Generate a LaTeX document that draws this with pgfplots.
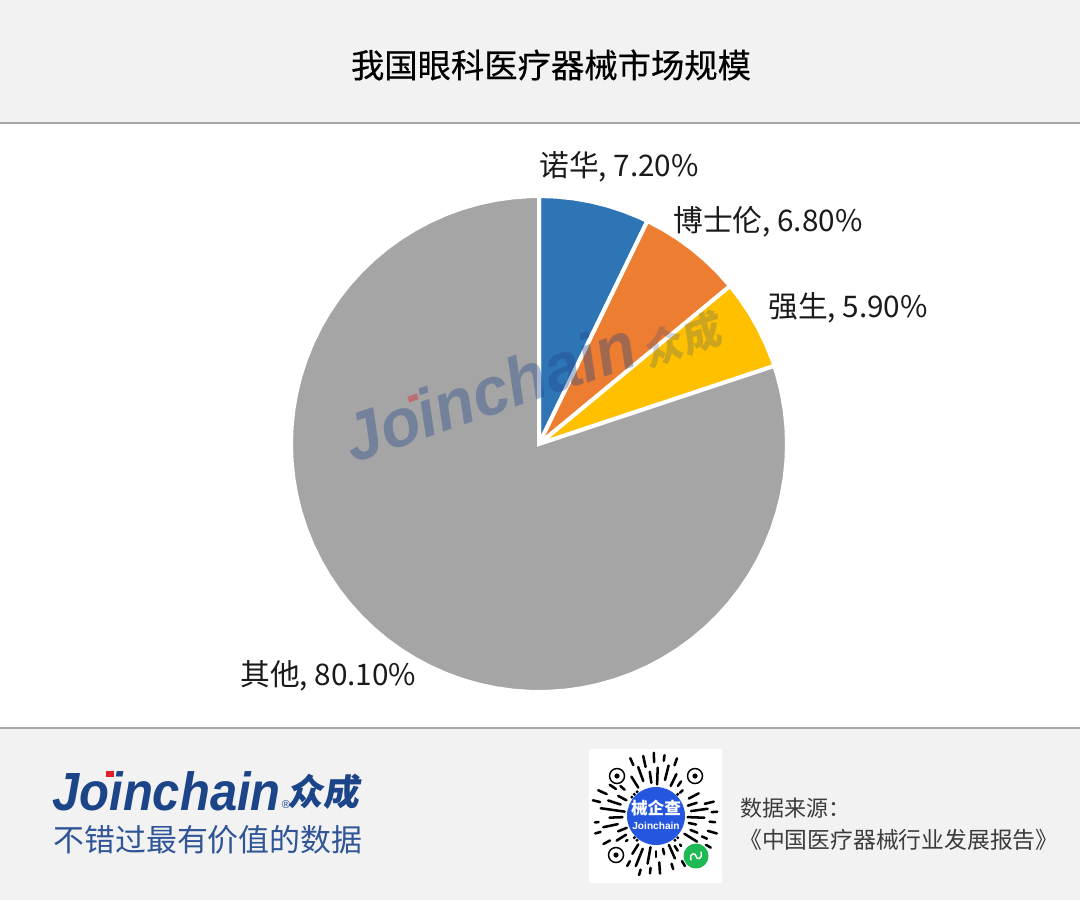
\documentclass[border=0pt]{standalone}
\usepackage{fontspec}
\setmainfont{Noto Sans CJK SC}
\newfontfamily\titlefont[FakeBold=0.35]{Noto Sans CJK SC}
\newfontfamily\logofont{Liberation Sans}
\usepackage{pgfplots}
\pgfplotsset{compat=1.18}
\definecolor{bandgray}{HTML}{F2F2F2}
\definecolor{rulegray}{HTML}{A6A6A6}
\definecolor{pieblue}{HTML}{2E75B6}
\definecolor{pieorange}{HTML}{ED7D31}
\definecolor{pieyellow}{HTML}{FFC000}
\definecolor{piegray}{HTML}{A5A5A5}
\definecolor{logoblue}{HTML}{1C4488}
\definecolor{tagblue}{HTML}{2F5597}
\definecolor{logored}{HTML}{E0202A}
\definecolor{qrblue}{HTML}{2456E0}
\definecolor{qrgreen}{HTML}{1DB954}
\definecolor{txt}{HTML}{1A1A1A}
\begin{document}
\begin{tikzpicture}[x=0.75pt,y=-0.75pt]
\path[use as bounding box] (0,0) rectangle (1080,900);
\fill[white] (0,0) rectangle (1080,900);
\fill[bandgray] (0,0) rectangle (1080,123);
\fill[bandgray] (0,728) rectangle (1080,900);
\draw[rulegray,line width=1pt] (0,123) -- (1080,123);
\draw[rulegray,line width=1pt] (0,728) -- (1080,728);

\node[text=black,font=\titlefont\fontsize{25}{30}\selectfont] at (551,65) {我国眼科医疗器械市场规模};

\coordinate (piecentre) at (539,444);
% shares 7.2, 6.8, 5.9, 80.1 turned into angles, clockwise from the top
\begin{axis}[
    at={(piecentre)}, anchor=center,
    scale only axis, width=372pt, height=372pt,
    xmin=-1, xmax=1, ymin=-1, ymax=1,
    hide axis, clip=false,
]
\addplot[data cs=polar,fill=pieblue,draw=white,line width=3pt] coordinates {
    (0,0) (90,1) (86,1) (82,1) (78,1) (74,1) (70,1) (66,1) (64.08,1)} --cycle;
\addplot[data cs=polar,fill=pieorange,draw=white,line width=3pt] coordinates {
    (0,0) (64.08,1) (60,1) (56,1) (52,1) (48,1) (44,1) (39.6,1)} --cycle;
\addplot[data cs=polar,fill=pieyellow,draw=white,line width=3pt] coordinates {
    (0,0) (39.6,1) (36,1) (32,1) (28,1) (24,1) (20,1) (18.36,1)} --cycle;
\addplot[data cs=polar,fill=piegray,draw=white,line width=3pt] coordinates {
    (0,0) (18.36,1) (16,1) (12,1) (8,1) (4,1) (0,1) (-4,1) (-8,1) (-12,1) (-16,1)
    (-20,1) (-24,1) (-28,1) (-32,1) (-36,1) (-40,1) (-44,1) (-48,1) (-52,1) (-56,1)
    (-60,1) (-64,1) (-68,1) (-72,1) (-76,1) (-80,1) (-84,1) (-88,1) (-92,1) (-96,1)
    (-100,1) (-104,1) (-108,1) (-112,1) (-116,1) (-120,1) (-124,1) (-128,1) (-132,1)
    (-136,1) (-140,1) (-144,1) (-148,1) (-152,1) (-156,1) (-160,1) (-164,1) (-168,1)
    (-172,1) (-176,1) (-180,1) (-184,1) (-188,1) (-192,1) (-196,1) (-200,1) (-204,1)
    (-208,1) (-212,1) (-216,1) (-220,1) (-224,1) (-228,1) (-232,1) (-236,1) (-240,1)
    (-244,1) (-248,1) (-252,1) (-256,1) (-260,1) (-264,1) (-268,1) (-270,1)} --cycle;
\end{axis}

% data labels
\begin{scope}[every node/.style={anchor=west,inner sep=0pt,text=txt,font=\fontsize{22.3}{26}\selectfont}]
\node at (539,167) {诺华, 7.20\%};
\node at (673,222) {博士伦, 6.80\%};
\node at (768,308) {强生, 5.90\%};
\node at (240,676) {其他, 80.10\%};
\end{scope}

% watermark
\node[anchor=south west,inner sep=0pt,text=logoblue,opacity=0.36,rotate=19,xscale=1.06,yscale=1.1,font=\logofont\bfseries\itshape\fontsize{46}{50}\selectfont] at (354,464) {Joinchain};
\fill[logored,opacity=0.4,rotate around={19:(413,398)}] (408,395) rectangle (418,401);
\node[anchor=south west,inner sep=0pt,text=logoblue,opacity=0.22,rotate=19,xslant=0.15,font=\bfseries\fontsize{30}{36}\selectfont] at (649,372) {众成};

% footer logo
\node[anchor=south west,inner sep=0pt,text=logoblue,xscale=1.02,yscale=1.12,font=\logofont\bfseries\itshape\fontsize{36}{42}\selectfont] at (52,811) {Joinchain};
\fill[logored] (106,771) rectangle (114,777);
\node[anchor=center,inner sep=0pt,text=logoblue,font=\logofont\fontsize{8.5}{9}\selectfont] at (286,805) {®};
\node[anchor=center,inner sep=0pt,text=logoblue,xslant=0.15,font=\bfseries\fontsize{27}{30}\selectfont] at (326,792) {众成};
\node[anchor=west,inner sep=0pt,text=tagblue,font=\fontsize{23.2}{28}\selectfont] at (53,840) {不错过最有价值的数据};

% mini program code
\fill[white] (589,749) rectangle (722,883);
\begin{scope}[shift={(656,816)},scale=0.93,black,line cap=round]
\foreach \a/\ra/\rb in {
  90/38/44, 78/36/42, 66/34/50, 58/38/44, 32/36/52, 22/40/48, 12/36/44, 2/34/52, -8/38/56, -18/36/46,
  -28/40/52, 100/34/52, 112/38/58, 122/36/48, 148/38/50, 158/34/44, 168/42/58, 178/36/50, 188/34/60,
  198/40/54, 208/36/46, 238/36/50, 250/40/56, 262/36/48, 272/34/52, 284/40/56, 296/36/50, 306/40/46,
  72/54/60, 86/50/62, 96/56/62, 106/60/66, 60/56/62, 24/54/60, 16/58/68, 6/58/64, -4/60/66, -14/54/64,
  164/62/68, 152/56/64, 174/62/66, 194/62/70, 204/58/68, 214/52/60, 246/60/68, 258/54/66, 268/58/68,
  278/60/66, 290/58/66, 30/62/68, 120/56/62, 220/44/50, 316/36/40, 140/40/42, 50/40/42} {
  \draw[line width=1.9pt] (\a:\ra) -- (\a:\rb);
}
\foreach \a in {45,135,225,315,52,128,218,232} {\fill (\a:33) circle (1.8);}
\end{scope}
\foreach \p in {(617,776),(695,776),(616,855)} {
  \draw[black,line width=1.1pt] \p circle (7.5);
  \fill[black] \p circle (2.6);
}
\fill[qrblue] (656,816) circle (29);
\node[text=white,inner sep=0pt,font=\bfseries\fontsize{12.5}{15}\selectfont] at (656,808) {械企查};
\node[text=white,inner sep=0pt,font=\logofont\bfseries\fontsize{7.6}{9}\selectfont] at (656,826) {Joinchain};
\fill[qrgreen] (696,856) circle (12.5);
\draw[white,line width=1.1pt,line cap=round] (691,860) .. controls (689,852) and (696,853) .. (696,856) .. controls (696,860) and (703,860) .. (701,852);

% source
\node[anchor=west,inner sep=0pt,text=txt!85,font=\fontsize{16.5}{20}\selectfont] at (740,808) {数据来源：};
\node[anchor=west,inner sep=0pt,text=txt!85,font=\fontsize{17.1}{20}\selectfont] at (739,840) {《中国医疗器械行业发展报告》};
\end{tikzpicture}
\end{document}
